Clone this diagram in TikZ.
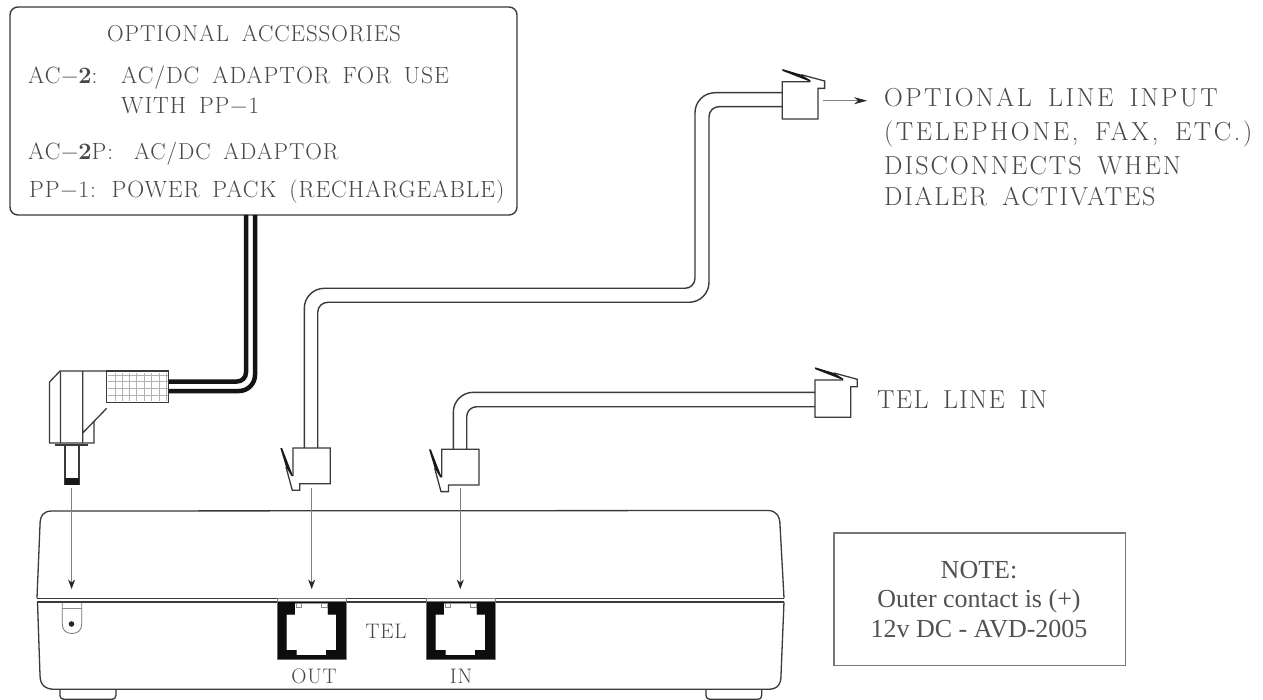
\documentclass[tikz,border=0pt]{standalone}
\usepackage{fontspec}
\usetikzlibrary{arrows.meta}
\newfontfamily\fA[LetterSpace=4,WordSpace=1.6]{Latin Modern Roman}
\newfontfamily\fB[LetterSpace=8,WordSpace=1.6]{Latin Modern Roman}
\newfontfamily\fBa[LetterSpace=9.3,WordSpace=1.6]{Latin Modern Roman}
\newfontfamily\fBb[LetterSpace=10,WordSpace=1.6]{Latin Modern Roman}
\newfontfamily\fBc[LetterSpace=6.8,WordSpace=1.6]{Latin Modern Roman}
\newfontfamily\fC[LetterSpace=5,WordSpace=1.6]{Latin Modern Roman}
\newfontfamily\fN{Liberation Serif}
\definecolor{ink}{HTML}{3A3A3A}
\definecolor{txt}{HTML}{484848}
\definecolor{notegray}{HTML}{777777}
\tikzset{
  line/.style={draw=ink,line width=1.3pt},
  wire/.style={draw=ink,line width=1.4pt,line join=round},
  power/.style={draw=black!92,line width=4.5pt},
  lead/.style={draw=black!50,line width=0.6pt,-{Stealth[length=9.5pt,width=7pt,color=black!85]}},
  lab/.style={anchor=base west,inner sep=0pt,text=txt},
  acc/.style={lab,font=\fontsize{23.5}{23.5}\fA},
  accsmall/.style={lab,font=\fontsize{23}{23}\fA},
  side/.style={lab,font=\fontsize{26}{26}\fB},
  sidea/.style={lab,font=\fontsize{26}{26}\fBa},
  sideb/.style={lab,font=\fontsize{26}{26}\fBb},
  sidec/.style={lab,font=\fontsize{26}{26}\fBc},
  sidetwo/.style={lab,font=\fontsize{26}{26}\fC},
  port/.style={anchor=base,inner sep=0pt,text=txt,font=\fontsize{21}{21}\fA},
  note/.style={anchor=base,inner sep=0pt,text=black!68,font=\fontsize{26}{26}\fN},
}
\newcommand\plugshape{%
  \draw[line,line join=miter] (-7,19) -- (-0.7,42.3) -- (6.7,42.3) -- (6.7,35.7) -- (37.3,35.7) -- (37.3,0) -- (0,0) -- (0,28);
  \fill[black!90] (-12.7,0) -- (-10.9,0) -- (0,28) -- (-1.5,28) -- (-7,19) -- cycle;
}
\newcommand\jackshape{%
  \fill[black!40] (-1,-0.5) rectangle (69.3,58.7);
  \fill[black!95,even odd rule] (0,0) rectangle (68.3,57.7)
    (17.3,1.7) -- (17.3,13) -- (9,13) -- (9,48.3) -- (19,48.3) -- (19,53.3) -- (48.3,53.3) -- (48.3,48.3) -- (58.3,48.3) -- (58.3,13) -- (50,13) -- (50,1.7) -- cycle;
  \fill[white] (9.2,13.2) -- (17.5,13.2) -- (17.5,1.9) -- (49.8,1.9) -- (49.8,13.2) -- (58.1,13.2) -- (58.1,48.1) -- (48.1,48.1) -- (48.1,53.1) -- (19.2,53.1) -- (19.2,48.1) -- (9.2,48.1) -- cycle;
  \draw[black!45,line width=0.5pt] (18.3,1.7) rectangle (24,5.7) (44,1.7) rectangle (50,5.7);
  \fill[white] (0,-3) rectangle (68.3,0);
  \draw[black!55,line width=0.6pt] (0,-3) rectangle (68.3,0);
}
\begin{document}
\begin{tikzpicture}[x=1pt,y=-1pt]
\useasboundingbox (0,0) rectangle (1263,700);
\fill[white] (0,0) rectangle (1263,700);

% accessories box
\node (box) at (263.5,111) [draw=ink,line width=1.4pt,rounded corners=8pt,minimum width=507pt,minimum height=208pt,inner sep=0pt] {};
\node (t1) [accsmall] at (107,41.7) {OPTIONAL ACCESSORIES};
\node (t2) [acc] at (28,83.4) {AC−{\bfseries 2}:};
\node (t3) [acc] at (121,83.4) {AC/DC ADAPTOR FOR USE};
\node (t4) [acc] at (121,113.3) {WITH PP−1};
\node (t5) [acc] at (28,160) {AC−{\bfseries 2}P:};
\node (t6) [accsmall] at (134,160) {AC/DC ADAPTOR};
\node (t7) [acc] at (29,198) {PP−1: POWER PACK (RECHARGEABLE)};

% power plug
\node (sleeve) at (137.6,386.8) [draw=ink,line width=1.3pt,minimum width=61.8pt,minimum height=31.5pt,inner sep=0pt] {};
\foreach \gx in {115,122.7,129.3,136,144,151.7,159.3,166} \draw[black!30,line width=0.6pt] (\gx,373) -- (\gx,401);
\foreach \gy in {375,381.7,388.3,395} \draw[black!30,line width=0.6pt] (108,\gy) -- (167.5,\gy);
\draw[line,line join=miter] (106.7,371) -- (60,371) -- (49.5,382) -- (49.5,443) -- (94,443) -- (94,421);
\draw[line] (60.5,371) -- (60.5,443) (82.7,371) -- (82.7,443) (106.7,408.3) -- (82.7,433);
\draw[draw=ink,line width=2pt] (55,444.5) -- (88,444.5);
\draw[line] (65,445) rectangle (79,484);
\fill[black!90] (65,478) rectangle (79,484.5);
\coordinate (pw1a) at (246,215); \coordinate (pw1b) at (246,381.5); \coordinate (pw1c) at (168.5,381.5);
\coordinate (pw2a) at (255,215); \coordinate (pw2b) at (255,391); \coordinate (pw2c) at (168.5,391);
\draw[power,rounded corners=9pt] (pw1a) -- (pw1b) -- (pw1c);
\draw[power,rounded corners=16pt] (pw2a) -- (pw2b) -- (pw2c);

% plugs
\begin{scope}[shift={(293,448)},x={(1pt,0pt)},y={(0pt,-1pt)}]\plugshape\end{scope}
\begin{scope}[shift={(441.7,449.3)},x={(1pt,0pt)},y={(0pt,-1pt)}]\plugshape\end{scope}
\begin{scope}[shift={(782.3,81.7)},x={(0pt,-1pt)},y={(1pt,0pt)}]\plugshape\end{scope}
\begin{scope}[shift={(815,380)},x={(0pt,-1pt)},y={(1pt,0pt)}]\plugshape\end{scope}

% long cable
\coordinate (la) at (304.3,448); \coordinate (lb) at (304.3,288.3); \coordinate (lc) at (695,288.3); \coordinate (ld) at (695,92.7); \coordinate (le) at (782.3,92.7);
\coordinate (ma) at (317.7,448); \coordinate (mb) at (317.7,302.3); \coordinate (mc) at (709,302.3); \coordinate (md) at (709,106.7); \coordinate (me) at (782.3,106.7);
\draw[wire,rounded corners=20pt] (la) -- (lb) [rounded corners=10pt] -- (lc) [rounded corners=20pt] -- (ld) -- (le);
\draw[wire,rounded corners=10pt] (ma) -- (mb) [rounded corners=20pt] -- (mc) [rounded corners=10pt] -- (md) -- (me);
% short cable
\coordinate (sa) at (453.3,449.3); \coordinate (sb) at (453.3,392.3); \coordinate (sc) at (815,392.3);
\coordinate (ta) at (466.7,449.3); \coordinate (tb) at (466.7,406.7); \coordinate (tc) at (815,406.7);
\draw[wire,rounded corners=20pt] (sa) -- (sb) -- (sc);
\draw[wire,rounded corners=10pt] (ta) -- (tb) -- (tc);

% device
\draw[line] (37,598) -- (40,525) .. controls (40,515) and (44,511) .. (52,511) -- (768,510.5) .. controls (776,510.5) and (780,516) .. (780,525) -- (784,598);
\draw[line,line width=0.9pt] (37,598) -- (784,598);
\draw[line,line width=1.8pt] (37,602) -- (784,602);
\draw[line] (37.5,602) -- (40,675) .. controls (40,685) and (45,689.3) .. (55,689.3) -- (768,689.3) .. controls (778,689.3) and (781,684) .. (781,675) -- (784,602);
\draw[line] (60,689.3) -- (60,695) .. controls (60,698.5) and (62,699.3) .. (66,699.3) -- (110,699.3) .. controls (115,699.3) and (116,698) .. (116,695) -- (116,689.3);
\draw[line] (706,689.3) -- (706,695) .. controls (706,698.5) and (708,699.3) .. (712,699.3) -- (756,699.3) .. controls (761,699.3) and (761.7,698) .. (761.7,695) -- (761.7,689.3);
% dc socket
\draw[black!55,line width=0.8pt] (62.3,603) -- (62.3,624) .. controls (62.3,630) and (66,633.5) .. (72,633.5) .. controls (78,633.5) and (81.7,630) .. (81.7,624) -- (81.7,603);
\draw[black!45,line width=0.6pt] (62.3,608) -- (81.7,608);
\fill[black!85] (71.5,624) circle (2.8pt);
% jacks
\begin{scope}[shift={(277.7,601.7)},x={(1pt,0pt)},y={(0pt,-1pt)}]\jackshape\end{scope}
\begin{scope}[shift={(426.7,601.7)},x={(1pt,0pt)},y={(0pt,-1pt)}]\jackshape\end{scope}
\node (tel) [port] at (386,638) {TEL};
\node (out) [port] at (314,683) {OUT};
\node (in) [port] at (461,683) {IN};

% leads
\coordinate (a1) at (71.6,488); \coordinate (a1e) at (71.6,589);
\coordinate (a2) at (311.7,488); \coordinate (a2e) at (311.7,589);
\coordinate (a3) at (460.3,488); \coordinate (a3e) at (460.3,589);
\coordinate (a4) at (823,100.7); \coordinate (a4e) at (867,100.7);
\draw[lead] (a1) -- (a1e);
\draw[lead] (a2) -- (a2e);
\draw[lead] (a3) -- (a3e);
\draw[lead,-{Stealth[length=13pt,width=7pt,color=black!85]}] (a4) -- (a4e);

% side labels
\node (s1) [sidea] at (884,106.7) {OPTIONAL LINE INPUT};
\node (s2) [sideb] at (884,141) {(TELEPHONE, FAX, ETC.)};
\node (s3) [side] at (884,175) {DISCONNECTS WHEN};
\node (s4) [sidec] at (884,205.7) {DIALER ACTIVATES};
\node (s5) [sidetwo] at (877,408) {TEL LINE IN};

% note
\node (notebox) at (979.85,599.35) [draw=notegray,line width=1.3pt,minimum width=291.7pt,minimum height=132.7pt,inner sep=0pt] {};
\node (n1) [note] at (979,578) {NOTE:};
\node (n2) [note] at (979,607.7) {Outer contact is (+)};
\node (n3) [note] at (979,637) {12v DC - AVD-2005};
\end{tikzpicture}
\end{document}
